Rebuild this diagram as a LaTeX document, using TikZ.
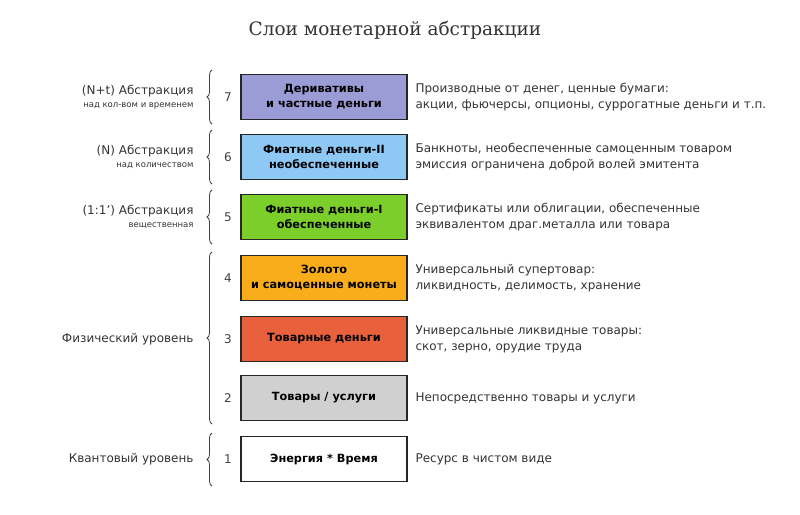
\documentclass[tikz,border=0pt]{standalone}
\usepackage{fontspec}
\setmainfont{DejaVu Sans}
\newfontfamily\titlefont{DejaVu Serif}
\usetikzlibrary{decorations.pathreplacing}
\definecolor{layerseven}{HTML}{9B9BD6}
\definecolor{layersix}{HTML}{8EC9F5}
\definecolor{layerfive}{HTML}{7CCF2A}
\definecolor{layerfour}{HTML}{F9AD1A}
\definecolor{layerthree}{HTML}{E8603C}
\definecolor{layertwo}{HTML}{D0D0D0}
\newcommand{\layer}[6]{\node[layer box, fill=#3] (L#1) at (324,#2){#4};
                        \node[num] (n#1) at (228,#2){#1};
                        \node[desc] (d#1) at (412,#2){#5\\#6};}
\newcommand{\bracket}[3]{\draw[brace line] (212,#3) -- (212,#2);
                          \coordinate (#1) at (212,#2/2+#3/2);}

\begin{document}
\begin{tikzpicture}[x=1pt, y=-1pt, font=\fontsize{12}{16}\selectfont,
     layer box/.style={rectangle, draw=black!85, line width=1.2pt, minimum width=166pt, minimum height=45pt, align=center, font=\fontsize{11.3}{15}\selectfont\bfseries},
     num/.style={text=black!75},
     desc/.style={anchor=west, align=left, text=black!80},
     side/.style={anchor=east, align=right, text=black!80},
     brace line/.style={decorate, decoration={brace, amplitude=5pt}, draw=black!75, line width=0.8pt}]
    \useasboundingbox (0,0) rectangle (800,514);
    \node[font=\titlefont\fontsize{18.5}{20}\selectfont, text=black!80] (title) at (395,30) {Слои монетарной абстракции};

    \layer{7}{97}{layerseven}{Деривативы\\и частные деньги}{Производные от денег, ценные бумаги:}{акции, фьючерсы, опционы, суррогатные деньги и т.п.}
    \layer{6}{157}{layersix}{Фиатные деньги-II\\необеспеченные}{Банкноты, необеспеченные самоценным товаром}{эмиссия ограничена доброй волей эмитента}
    \layer{5}{217}{layerfive}{Фиатные деньги-I\\обеспеченные}{Сертификаты или облигации, обеспеченные}{эквивалентом драг.металла или товара}
    \layer{4}{278}{layerfour}{Золото\\и самоценные монеты}{Универсальный супертовар:}{ликвидность, делимость, хранение}
    \layer{3}{339}{layerthree}{Товарные деньги}{Универсальные ликвидные товары:}{скот, зерно, орудие труда}
    \node[layer box, fill=layertwo] (L2) at (324,398) {Товары / услуги};
    \node[num] (n2) at (228,398) {2};
    \node[desc] (d2) at (412,398) {Непосредственно товары и услуги};
    \node[layer box, fill=white] (L1) at (324,459) {Энергия * Время};
    \node[num] (n1) at (228,459) {1};
    \node[desc] (d1) at (412,459) {Ресурс в чистом виде};

    \bracket{b7}{70}{124}
    \bracket{b6}{130}{184}
    \bracket{b5}{190}{244}
    \bracket{b4}{252}{424}
    \bracket{b1}{433}{486}

    \node[side] (s7) at (197,97) {(N+t) Абстракция\\[-3pt]{\fontsize{8.5}{10}\selectfont над кол-вом и временем}};
    \node[side] (s6) at (197,157) {(N) Абстракция\\[-3pt]{\fontsize{8.5}{10}\selectfont над количеством}};
    \node[side] (s5) at (197,217) {(1:1') Абстракция\\[-3pt]{\fontsize{8.5}{10}\selectfont вещественная}};
    \node[side] (s4) at (197,339) {Физический уровень};
    \node[side] (s1) at (197,459) {Квантовый уровень};
\end{tikzpicture}
\end{document}
